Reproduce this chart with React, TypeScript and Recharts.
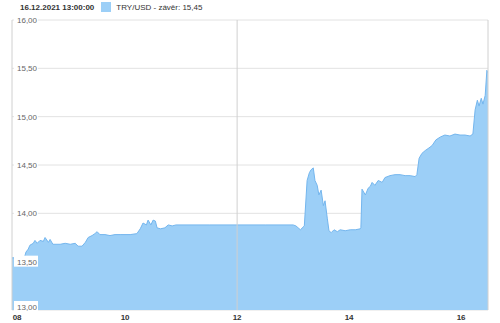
import React from 'react';
import { AreaChart, Area, XAxis, YAxis, CartesianGrid, ReferenceLine } from 'recharts';

// den v prosinci 2021 (desetinně) a kurz TRY/USD x100
const dny = [
  7.98, 8.2, 8.23, 8.27, 8.3, 8.36, 8.39, 8.43, 8.48, 8.54, 8.57, 8.63, 8.66, 8.71, 8.84, 8.93, 9.02, 9.11, 9.16, 9.23,
  9.29, 9.34, 9.41, 9.46, 9.5, 9.55, 9.64, 9.73, 9.82, 9.91, 10.09, 10.21, 10.27, 10.32, 10.38, 10.41, 10.46, 10.5, 10.54, 10.57,
  10.63, 10.71, 10.77, 10.84, 10.91, 11.5, 12.0, 12.5, 13.0, 13.05, 13.13, 13.2, 13.25, 13.29, 13.32, 13.36, 13.39, 13.43, 13.46, 13.5,
  13.54, 13.57, 13.61, 13.64, 13.68, 13.73, 13.79, 13.84, 13.93, 14.02, 14.11, 14.2, 14.21, 14.23, 14.29, 14.34, 14.38, 14.41, 14.46, 14.52,
  14.59, 14.64, 14.73, 14.82, 14.91, 15.0, 15.09, 15.18, 15.21, 15.25, 15.3, 15.36, 15.41, 15.48, 15.55, 15.63, 15.71, 15.8, 15.89, 15.98,
  16.07, 16.16, 16.21, 16.25, 16.29, 16.32, 16.36, 16.39, 16.43, 16.46, 16.48,
];
const kurz = [
  13.54, 13.54, 13.6, 13.63, 13.67, 13.69, 13.72, 13.69, 13.72, 13.71, 13.75, 13.7, 13.73, 13.68, 13.68, 13.69, 13.68, 13.69, 13.66, 13.66,
  13.7, 13.75, 13.77, 13.79, 13.81, 13.78, 13.78, 13.77, 13.78, 13.78, 13.78, 13.79, 13.84, 13.9, 13.88, 13.93, 13.88, 13.93, 13.92, 13.85,
  13.84, 13.85, 13.88, 13.87, 13.88, 13.88, 13.88, 13.88, 13.88, 13.87, 13.83, 13.87, 14.34, 14.42, 14.45, 14.47, 14.34, 14.29, 14.19, 14.24,
  14.08, 14.13, 13.95, 13.82, 13.8, 13.83, 13.81, 13.83, 13.82, 13.83, 13.83, 13.84, 13.85, 14.25, 14.19, 14.26, 14.28, 14.32, 14.29, 14.34,
  14.32, 14.37, 14.39, 14.4, 14.4, 14.39, 14.39, 14.38, 14.4, 14.57, 14.62, 14.65, 14.67, 14.7, 14.76, 14.79, 14.81, 14.8, 14.82, 14.81,
  14.81, 14.8, 14.82, 15.07, 15.17, 15.11, 15.19, 15.13, 15.22, 15.48, 15.45,
];

const xTicks = [8, 10, 12, 14, 16];
const xPopisky = ['08', '10', '12', '14', '16'];
const yTicks = [13, 13.5, 14, 14.5, 15, 15.5, 16];

const datum = '16.12.2021 13:00:00';
const nazevRady = 'TRY/USD - závěr: 15,45';

const data = dny.map((d, i) => ({ den: d, kurz: kurz[i] }));

const pismo = '"Liberation Sans", Arial, sans-serif';
const cislo = (v: number) => v.toFixed(2).replace('.', ',');

const YTick = (props: any) => {
  const { x, y, payload } = props;
  const yy = payload.value === 13 ? y - 3 : y;
  return (
    <g>
      <rect x={x + 2} y={yy - 6} width={24} height={11} fill="#fff" />
      <text x={x + 5} y={yy + 3} fontSize={8} fill="#666" fontFamily={pismo}>
        {cislo(payload.value)}
      </text>
    </g>
  );
};

const XTick = (props: any) => {
  const { x, y, payload } = props;
  const i = xTicks.indexOf(payload.value);
  return (
    <text x={i === 0 ? x + 4 : x} y={y + 10} fontSize={8} fontWeight="bold" fill="#333" textAnchor="middle" fontFamily={pismo}>
      {xPopisky[i]}
    </text>
  );
};

export default function App() {
  return (
    <div style={{ position: 'absolute', left: 0, top: 0, width: 500, height: 323, background: '#fff' }}>
      <div style={{ position: 'absolute', left: 20, top: 2, display: 'flex', alignItems: 'center', fontFamily: pismo, fontSize: 8, color: '#333' }}>
        <span style={{ fontWeight: 'bold' }}>{datum}</span>
        <span style={{ display: 'inline-block', width: 10, height: 10, background: '#9ccff7', marginLeft: 7, marginRight: 5 }} />
        <span>{nazevRady}</span>
      </div>
      <AreaChart width={500} height={323} data={data} margin={{ top: 20, right: 11, left: 11, bottom: 0 }}>
        <CartesianGrid vertical={false} stroke="#e2e2e2" />
        <ReferenceLine x={12} stroke="#d0d0d0" />
        <Area
          type="linear"
          dataKey="kurz"
          stroke="#74b6ee"
          strokeWidth={1}
          fill="#9ccff7"
          fillOpacity={1}
          isAnimationActive={false}
          baseValue={13}
        />
        <XAxis
          dataKey="den"
          type="number"
          domain={[7.98, 16.48]}
          ticks={xTicks}
          height={13}
          tickSize={0}
          tickMargin={0}
          axisLine={false}
          tickLine={false}
          tick={<XTick />}
          allowDataOverflow
        />
        <YAxis
          type="number"
          domain={[13, 16]}
          ticks={yTicks}
          width={1}
          tickSize={0}
          tickMargin={0}
          axisLine={{ stroke: '#d0d0d0' }}
          tickLine={false}
          tick={(p: any) => <YTick {...p} />}
          interval={0}
          allowDataOverflow
        />
        <YAxis yAxisId="r" orientation="right" type="number" domain={[13, 16]} width={1} tick={false} tickLine={false} axisLine={{ stroke: '#d0d0d0' }} />
      </AreaChart>
    </div>
  );
}
